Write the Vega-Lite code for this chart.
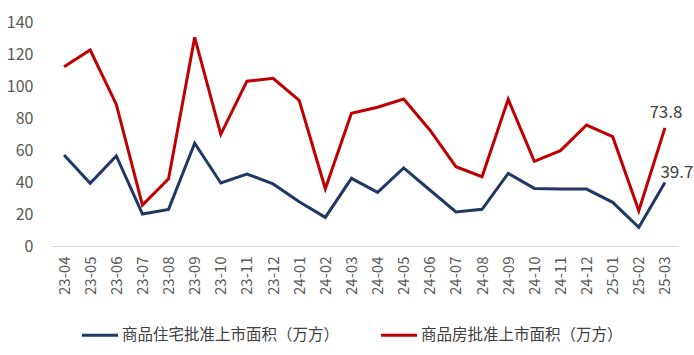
{
  "$schema": "https://vega.github.io/schema/vega-lite/v6.json",
  "width": 627,
  "height": 224,
  "autosize": {"type": "none"},
  "padding": {"left": 51, "top": 22, "right": 16, "bottom": 109},
  "background": "white",
  "config": {
    "view": {"stroke": null},
    "font": "Noto Sans CJK SC"
  },
  "data": {
    "values": [
      {"m": "23-04", "s": "商品住宅批准上市面积（万方）", "v": 56.9},
      {"m": "23-05", "s": "商品住宅批准上市面积（万方）", "v": 39.2},
      {"m": "23-06", "s": "商品住宅批准上市面积（万方）", "v": 56.3},
      {"m": "23-07", "s": "商品住宅批准上市面积（万方）", "v": 20.0},
      {"m": "23-08", "s": "商品住宅批准上市面积（万方）", "v": 22.9},
      {"m": "23-09", "s": "商品住宅批准上市面积（万方）", "v": 64.2},
      {"m": "23-10", "s": "商品住宅批准上市面积（万方）", "v": 39.4},
      {"m": "23-11", "s": "商品住宅批准上市面积（万方）", "v": 45.0},
      {"m": "23-12", "s": "商品住宅批准上市面积（万方）", "v": 38.8},
      {"m": "24-01", "s": "商品住宅批准上市面积（万方）", "v": 27.7},
      {"m": "24-02", "s": "商品住宅批准上市面积（万方）", "v": 17.9},
      {"m": "24-03", "s": "商品住宅批准上市面积（万方）", "v": 42.3},
      {"m": "24-04", "s": "商品住宅批准上市面积（万方）", "v": 33.5},
      {"m": "24-05", "s": "商品住宅批准上市面积（万方）", "v": 48.8},
      {"m": "24-06", "s": "商品住宅批准上市面积（万方）", "v": 35.0},
      {"m": "24-07", "s": "商品住宅批准上市面积（万方）", "v": 21.3},
      {"m": "24-08", "s": "商品住宅批准上市面积（万方）", "v": 22.9},
      {"m": "24-09", "s": "商品住宅批准上市面积（万方）", "v": 45.4},
      {"m": "24-10", "s": "商品住宅批准上市面积（万方）", "v": 36.0},
      {"m": "24-11", "s": "商品住宅批准上市面积（万方）", "v": 35.6},
      {"m": "24-12", "s": "商品住宅批准上市面积（万方）", "v": 35.6},
      {"m": "25-01", "s": "商品住宅批准上市面积（万方）", "v": 27.3},
      {"m": "25-02", "s": "商品住宅批准上市面积（万方）", "v": 11.7},
      {"m": "25-03", "s": "商品住宅批准上市面积（万方）", "v": 39.7},
      {"m": "23-04", "s": "商品房批准上市面积（万方）", "v": 112.0},
      {"m": "23-05", "s": "商品房批准上市面积（万方）", "v": 122.5},
      {"m": "23-06", "s": "商品房批准上市面积（万方）", "v": 88.5},
      {"m": "23-07", "s": "商品房批准上市面积（万方）", "v": 25.6},
      {"m": "23-08", "s": "商品房批准上市面积（万方）", "v": 42.0},
      {"m": "23-09", "s": "商品房批准上市面积（万方）", "v": 130.4},
      {"m": "23-10", "s": "商品房批准上市面积（万方）", "v": 69.8},
      {"m": "23-11", "s": "商品房批准上市面积（万方）", "v": 103.0},
      {"m": "23-12", "s": "商品房批准上市面积（万方）", "v": 104.8},
      {"m": "24-01", "s": "商品房批准上市面积（万方）", "v": 91.0},
      {"m": "24-02", "s": "商品房批准上市面积（万方）", "v": 35.8},
      {"m": "24-03", "s": "商品房批准上市面积（万方）", "v": 82.9},
      {"m": "24-04", "s": "商品房批准上市面积（万方）", "v": 86.7},
      {"m": "24-05", "s": "商品房批准上市面积（万方）", "v": 91.9},
      {"m": "24-06", "s": "商品房批准上市面积（万方）", "v": 72.5},
      {"m": "24-07", "s": "商品房批准上市面积（万方）", "v": 49.6},
      {"m": "24-08", "s": "商品房批准上市面积（万方）", "v": 43.3},
      {"m": "24-09", "s": "商品房批准上市面积（万方）", "v": 91.7},
      {"m": "24-10", "s": "商品房批准上市面积（万方）", "v": 52.9},
      {"m": "24-11", "s": "商品房批准上市面积（万方）", "v": 59.6},
      {"m": "24-12", "s": "商品房批准上市面积（万方）", "v": 75.6},
      {"m": "25-01", "s": "商品房批准上市面积（万方）", "v": 68.3},
      {"m": "25-02", "s": "商品房批准上市面积（万方）", "v": 22.0},
      {"m": "25-03", "s": "商品房批准上市面积（万方）", "v": 73.8}
    ]
  },
  "encoding": {
    "x": {
      "field": "m",
      "type": "ordinal",
      "scale": {"type": "point", "padding": 0.5},
      "axis": {
        "title": null,
        "labelAngle": -90,
        "labelFontSize": 15,
        "labelColor": "#595959",
        "labelPadding": 10,
        "ticks": false,
        "domainColor": "#d9d9d9",
        "domainWidth": 1,
        "grid": false
      }
    },
    "y": {
      "field": "v",
      "type": "quantitative",
      "scale": {"domain": [0, 140], "nice": false},
      "axis": {
        "title": null,
        "values": [0, 20, 40, 60, 80, 100, 120, 140],
        "labelFontSize": 16,
        "labelColor": "#595959",
        "labelPadding": 18,
        "ticks": false,
        "domain": false,
        "grid": false
      }
    }
  },
  "layer": [
    {
      "mark": {"type": "line", "strokeWidth": 3, "strokeJoin": "miter"},
      "encoding": {
        "color": {
          "field": "s",
          "type": "nominal",
          "sort": ["商品住宅批准上市面积（万方）", "商品房批准上市面积（万方）"],
          "scale": {
            "domain": ["商品住宅批准上市面积（万方）", "商品房批准上市面积（万方）"],
            "range": ["#203864", "#C00000"]
          },
          "legend": {
            "title": null,
            "orient": "none",
            "direction": "horizontal",
            "legendX": 29,
            "legendY": 293,
            "symbolType": "stroke",
            "symbolSize": 1300,
            "symbolStrokeWidth": 3,
            "labelFontSize": 15.5,
            "labelColor": "#404040",
            "labelLimit": 0,
            "columnPadding": 34,
            "labelOffset": 2
          }
        }
      }
    },
    {
      "transform": [{"filter": "datum.m == '25-03' && datum.v > 60"}],
      "mark": {"type": "text", "fontSize": 17, "color": "#404040", "dy": -15, "dx": 1},
      "encoding": {"text": {"field": "v", "type": "quantitative", "format": ".1f"}}
    },
    {
      "transform": [{"filter": "datum.m == '25-03' && datum.v < 60"}],
      "mark": {"type": "text", "fontSize": 17, "color": "#404040", "dy": -9, "dx": 12},
      "encoding": {"text": {"field": "v", "type": "quantitative", "format": ".1f"}}
    }
  ]
}
